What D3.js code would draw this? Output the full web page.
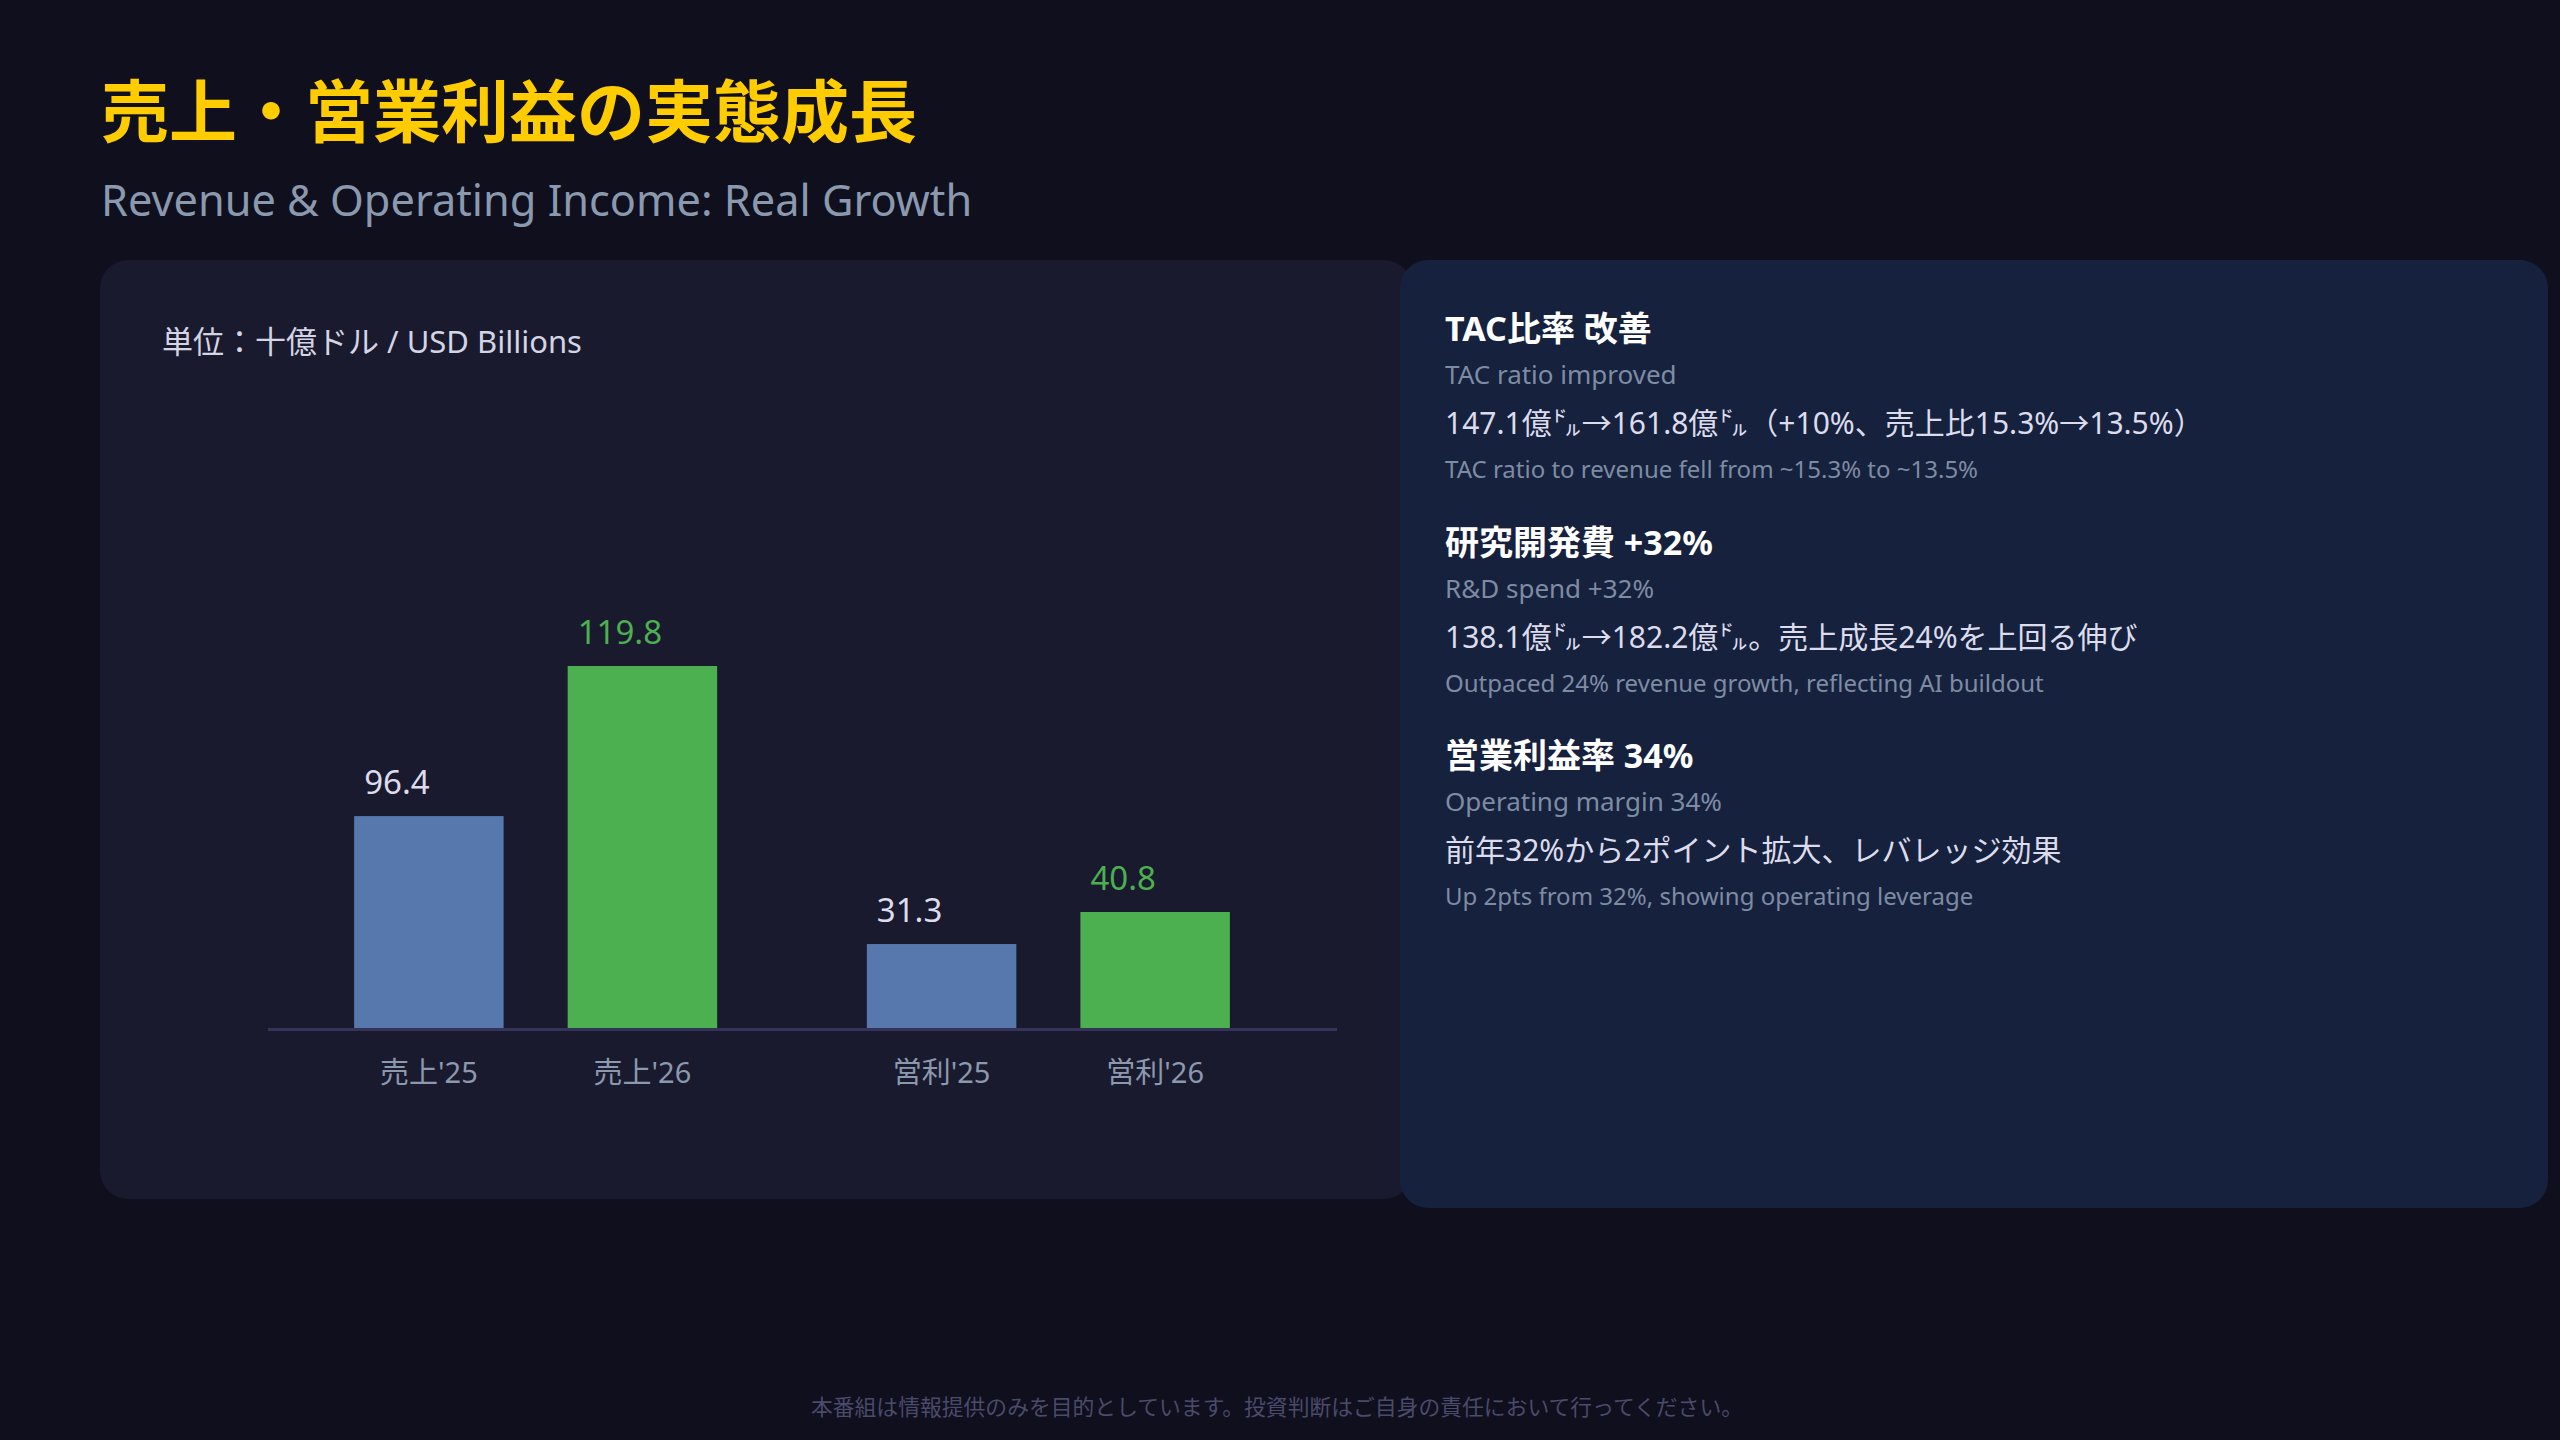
<!DOCTYPE html>
<html>
<head>
<meta charset="utf-8">
<script src="https://cdn.jsdelivr.net/npm/d3@7"></script>
<style>
	html, body { margin: 0; padding: 0; background: #0f0f1e; }
	svg { display: block; }
	text { font-family: 'Noto Sans', 'Noto Sans CJK JP', sans-serif; }
</style>
</head>
<body>
<div id="canvas"></div>
<script>
const groups = ['売上', '営利'];
const years = ["'25", "'26"];
const revenue = [96.4, 119.8];
const opIncome = [31.3, 40.8];

const notesJa = ['TAC比率 改善', '研究開発費 +32%', '営業利益率 34%'];
const notesEn = ['TAC ratio improved', 'R&D spend +32%', 'Operating margin 34%'];
const notesBody = [
	'147.1億㌦→161.8億㌦（+10%、売上比15.3%→13.5%）',
	'138.1億㌦→182.2億㌦。売上成長24%を上回る伸び',
	'前年32%から2ポイント拡大、レバレッジ効果'
];
const notesSub = [
	'TAC ratio to revenue fell from ~15.3% to ~13.5%',
	'Outpaced 24% revenue growth, reflecting AI buildout',
	'Up 2pts from 32%, showing operating leverage'
];

const w = 2560;
const h = 1440;

const svg = d3.select('#canvas')
							.append('svg')
							.attr('width', w)
							.attr('height', h);

svg.append('rect')
	.attr('width', w)
	.attr('height', h)
	.attr('fill', '#0f0f1e');

// header
svg.append('text')
	.attr('x', 101)
	.attr('y', 137)
	.attr('fill', '#ffcc00')
	.style('font-family', "'Noto Sans CJK JP', sans-serif")
	.style('font-size', '68px')
	.style('font-weight', 700)
	.text('売上・営業利益の実態成長');

svg.append('text')
	.attr('x', 101)
	.attr('y', 216)
	.attr('fill', '#8a99ae')
	.style('font-size', '43.3px')
	.text('Revenue & Operating Income: Real Growth');

// panels
svg.append('rect')
	.attr('x', 100)
	.attr('y', 260)
	.attr('width', 1312)
	.attr('height', 939)
	.attr('rx', 28)
	.attr('fill', '#1a1a2e');

svg.append('rect')
	.attr('x', 1400)
	.attr('y', 260)
	.attr('width', 1148)
	.attr('height', 948)
	.attr('rx', 28)
	.attr('fill', '#16213e');

// chart
svg.append('text')
	.attr('x', 162)
	.attr('y', 353)
	.attr('fill', '#d4d4e4')
	.style('font-size', '31px')
	.text('単位：十億ドル / USD Billions');

const baseY = 1029;

const x0 = d3.scaleBand()
						.domain(groups)
						.range([268, 1316])
						.paddingInner(0.292)
						.paddingOuter(0.168);

const x1 = d3.scaleBand()
						.domain(years)
						.range([0, x0.bandwidth()])
						.paddingInner(0.3);

// each group gets its own scale, like the original
const yScales = {
	'売上': d3.scaleLinear().domain([63.2, 119.8]).range([baseY, 666]),
	'営利': d3.scaleLinear().domain([6.1, 40.8]).range([baseY, 912])
};

const barData = [];
groups.forEach((g, gi) => {
	const vals = gi == 0 ? revenue : opIncome;
	years.forEach((yr, yi) => barData.push({ group: g, year: yr, value: vals[yi] }));
});

const colors = d3.scaleOrdinal().domain(years).range(['#5678ac', '#4caf50']);
const labelColors = d3.scaleOrdinal().domain(years).range(['#dcdcec', '#4caf50']);

const chart = svg.append('g');

chart.selectAll('rect')
	.data(barData)
	.enter()
	.append('rect')
	.attr('x', d => x0(d.group) + x1(d.year))
	.attr('y', d => yScales[d.group](d.value))
	.attr('width', x1.bandwidth())
	.attr('height', d => baseY - yScales[d.group](d.value))
	.attr('fill', d => colors(d.year));

chart.append('line')
	.attr('x1', 268)
	.attr('x2', 1337)
	.attr('y1', baseY + 0.5)
	.attr('y2', baseY + 0.5)
	.attr('stroke', '#34345a')
	.attr('stroke-width', 3);

chart.selectAll('.value')
	.data(barData)
	.enter()
	.append('text')
	.attr('class', 'value')
	.attr('x', d => x0(d.group) + x1(d.year) + 10)
	.attr('y', d => yScales[d.group](d.value) - 22)
	.attr('fill', d => labelColors(d.year))
	.style('font-size', '33px')
	.text(d => d.value.toFixed(1));

chart.selectAll('.cat')
	.data(barData)
	.enter()
	.append('text')
	.attr('class', 'cat')
	.attr('x', d => x0(d.group) + x1(d.year) + x1.bandwidth() / 2)
	.attr('y', 1083)
	.attr('text-anchor', 'middle')
	.attr('fill', '#8a99ae')
	.style('font-size', '29px')
	.text(d => d.group + d.year);

// notes on the right
const notes = svg.append('g')
	.selectAll('g')
	.data(notesJa)
	.enter()
	.append('g')
	.attr('transform', (d, i) => 'translate(1445, ' + (341 + i * 213.5) + ')');

notes.append('text')
	.attr('fill', '#ffffff')
	.style('font-size', '34px')
	.style('font-weight', 700)
	.text(d => d);

notes.append('text')
	.attr('y', 43)
	.attr('fill', '#7e8ca3')
	.style('font-size', '26px')
	.text((d, i) => notesEn[i]);

notes.append('text')
	.attr('y', 93)
	.attr('fill', '#dcdcec')
	.style('font-size', '30px')
	.text((d, i) => notesBody[i]);

notes.append('text')
	.attr('y', 137)
	.attr('fill', '#7e8ca3')
	.style('font-size', '24px')
	.text((d, i) => notesSub[i]);

// footer
svg.append('text')
	.attr('x', 1277)
	.attr('y', 1415)
	.attr('text-anchor', 'middle')
	.attr('fill', '#4a4a6a')
	.style('font-size', '21.8px')
	.text('本番組は情報提供のみを目的としています。投資判断はご自身の責任において行ってください。');
</script>
</body>
</html>
